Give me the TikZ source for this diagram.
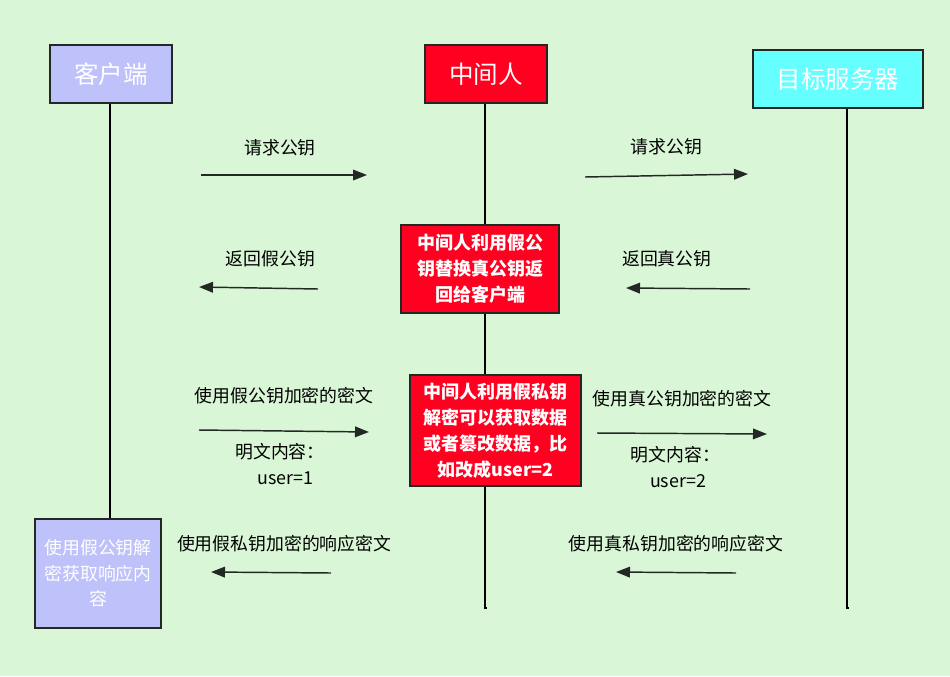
\documentclass[tikz,border=0pt]{standalone}
\usepackage{fontspec}
\setmainfont{Noto Sans CJK SC}
\usepackage{xcolor}
\usetikzlibrary{arrows.meta}
\definecolor{bggreen}{RGB}{217,247,214}
\definecolor{clientblue}{RGB}{191,193,250}
\definecolor{mitmred}{RGB}{255,0,32}
\definecolor{servercyan}{RGB}{102,255,255}
\definecolor{edgegray}{RGB}{36,40,36}
\begin{document}
\begin{tikzpicture}[
  x=0.75pt, y=-0.75pt,
  every node/.style={font=\fontsize{13.4}{19.5}\selectfont},
  actor/.style={draw=edgegray,line width=1.4pt,inner sep=0pt,text=white,
                minimum height=43.5pt,font=\fontsize{18.4}{21}\selectfont},
  trick/.style={draw=edgegray,line width=1pt,fill=mitmred,text=white,inner sep=0pt,
                align=center,font=\fontsize{13.5}{19.5}\selectfont\bfseries},
  note/.style={draw=edgegray,line width=1pt,fill=clientblue,text=white,inner sep=0pt,
               align=center,font=\fontsize{13.4}{19}\selectfont},
  life/.style={draw=black,line width=1pt},
  msg/.style={draw=edgegray,line width=1.1pt,-{Triangle[length=10.5pt,width=8pt]}},
  lbl/.style={inner sep=0pt,align=center}
]
\fill[bggreen] (0,0) rectangle (950,676);
\useasboundingbox (0,0) rectangle (950,676);

% actors
\node[actor,fill=clientblue,minimum width=91.5pt] (client) at (111,74) {客户端};
\node[actor,fill=mitmred,minimum width=91.5pt] (mitm) at (486,74) {中间人};
\node[actor,fill=servercyan,minimum width=127.5pt] (server) at (838,79) {目标服务器};

% lifelines
\coordinate (mitmend) at (485,608);
\coordinate (serverend) at (847,608);
\draw[life] (mitm.south -| mitmend) -- (mitmend) -- ++(2,0);
\draw[life] (server.south -| serverend) -- (serverend) -- ++(2,0);

% boxes on the lifelines
\node[trick,minimum width=118.5pt,minimum height=66pt] (swapkey) at (480,269)
  {中间人利用假公\\钥替换真公钥返\\回给客户端};
\node[trick,minimum width=128.25pt,minimum height=83.25pt] (tamper) at (495.5,430.5)
  {中间人利用假私钥\\解密可以获取数据\\或者篡改数据，比\\如改成user=2};
\node[note,minimum width=94.5pt,minimum height=81.75pt] (decrypt) at (98,573.5)
  {使用假公钥解\\密获取响应内\\容};
\draw[life] (client.south -| 110,0) -- (decrypt.north -| 110,0);

% messages
\coordinate (r1a) at (201,175); \coordinate (r1b) at (367,175);
\coordinate (r2a) at (585,177); \coordinate (r2b) at (748,174);
\coordinate (k1a) at (318,289); \coordinate (k1b) at (199,287);
\coordinate (k2a) at (750,289); \coordinate (k2b) at (626,288);
\coordinate (e1a) at (199,430); \coordinate (e1b) at (369,432);
\coordinate (e2a) at (597,433); \coordinate (e2b) at (767,434);
\coordinate (d1a) at (331,573); \coordinate (d1b) at (211,572);
\coordinate (d2a) at (736,573); \coordinate (d2b) at (616,572);

\draw[msg] (r1a) -- node[lbl,above=14pt,xshift=-3pt] {请求公钥} (r1b);
\draw[msg] (r2a) -- node[lbl,above=14.5pt] {请求公钥} (r2b);
\draw[msg] (k1a) -- node[lbl,above=15.5pt,pos=0.4] {返回假公钥} (k1b);
\draw[msg] (k2a) -- node[lbl,above=15.5pt,pos=0.67] {返回真公钥} (k2b);
\draw[msg] (e1a) -- node[lbl,above=19.5pt] {使用假公钥加密的密文}
                    node[lbl,below=9pt,xshift=-3pt] {明文内容：\\\hspace*{8pt}user=1} (e1b);
\draw[msg] (e2a) -- node[lbl,above=19.5pt] {使用真公钥加密的密文}
                    node[lbl,below=9pt,xshift=-5pt] {明文内容：\\\hspace*{4pt}user=2} (e2b);
\draw[msg] (d1a) -- node[lbl,above=14.5pt,pos=0.39] {使用假私钥加密的响应密文} (d1b);
\draw[msg] (d2a) -- node[lbl,above=14.5pt] {使用真私钥加密的响应密文} (d2b);
\end{tikzpicture}
\end{document}
